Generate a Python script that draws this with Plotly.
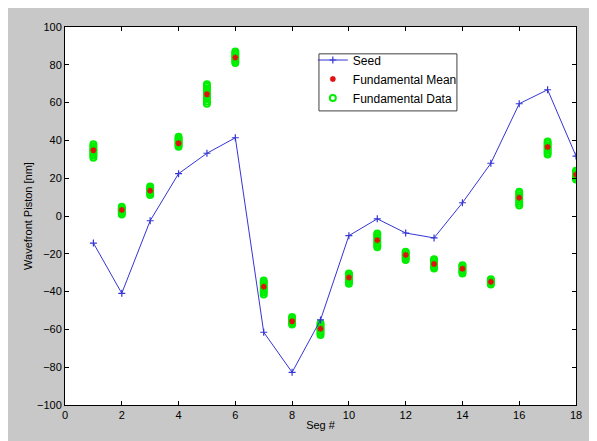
import plotly.graph_objects as go

segments = list(range(1, 19))

seed = [-14.3, -40.9, -2.5, 22.4, 33.2, 41.4, -61.5, -82.7, -55.0,
        -10.4, -1.5, -9.0, -11.6, 7.0, 27.9, 59.4, 66.8, 31.7]

fundamental_mean = [34.8, 3.2, 13.4, 38.5, 64.4, 83.8, -37.4, -55.7, -59.6,
                    -32.6, -12.8, -20.6, -25.4, -27.9, -34.8, 9.7, 36.5, 21.9]

fundamental_data = [
    [30.8, 31.9, 32.7, 33.6, 34.4, 35.1, 36.0, 36.9, 37.9],
    [0.8, 1.5, 2.3, 2.9, 3.4, 4.1, 4.9],
    [11.1, 11.9, 12.6, 13.3, 14.0, 14.8, 15.6],
    [36.6, 37.3, 38.1, 38.8, 39.5, 40.3, 41.0, 41.9],
    [59.4, 60.6, 61.9, 63.0, 64.2, 65.3, 66.5, 67.6, 68.8, 69.7],
    [81.0, 81.9, 82.8, 83.7, 84.5, 85.4, 86.2, 87.0],
    [-41.5, -40.4, -39.3, -38.2, -37.1, -36.0, -35.0, -34.1],
    [-57.4, -56.6, -55.8, -55.0, -54.2, -53.4],
    [-62.9, -62.0, -61.1, -60.2, -59.3, -58.4, -57.5, -56.7],
    [-35.9, -35.1, -34.2, -33.4, -32.5, -31.7, -30.9, -30.4],
    [-16.5, -15.5, -14.4, -13.3, -12.2, -11.1, -10.0, -9.2],
    [-23.3, -22.5, -21.7, -20.9, -20.1, -19.3, -18.9],
    [-27.8, -27.0, -26.1, -25.3, -24.5, -23.6, -22.9],
    [-30.4, -29.6, -28.8, -28.0, -27.2, -26.5, -26.0],
    [-36.2, -35.6, -35.0, -34.4, -33.9, -33.5],
    [5.5, 6.6, 7.7, 8.8, 9.9, 11.0, 12.0, 12.8],
    [32.5, 33.5, 34.5, 35.5, 36.5, 37.5, 38.5, 39.4],
    [19.3, 20.0, 20.8, 21.6, 22.4, 23.2, 23.9],
]

x_ticks = list(range(0, 19, 2))
y_ticks = list(range(-100, 101, 20))

data_x, data_y = [], []
for s, vals in zip(segments, fundamental_data):
    for v in vals:
        data_x.append(s)
        data_y.append(v)

FONT = "Liberation Sans, Arial, sans-serif"

fig = go.Figure()
fig.add_trace(go.Scatter(
    x=data_x, y=data_y, mode="markers", name="Fundamental Data",
    legendrank=3,
    marker=dict(symbol="circle-open", size=6, color="#00ee00",
                line=dict(color="#00ee00", width=2)),
))
fig.add_trace(go.Scatter(
    x=segments, y=fundamental_mean, mode="markers", name="Fundamental Mean",
    legendrank=2,
    marker=dict(symbol="asterisk-open", size=5, color="#e01010",
                line=dict(color="#e01010", width=1.5)),
))
fig.add_trace(go.Scatter(
    x=segments, y=seed, mode="lines+markers", name="Seed",
    legendrank=1,
    line=dict(color="#3535d5", width=1),
    marker=dict(symbol="cross-thin-open", size=5,
                line=dict(color="#1010e0", width=1.2)),
))

axis_common = dict(
    showgrid=False, zeroline=False, showline=True, linecolor="#000000",
    linewidth=1, mirror="ticks", ticks="inside", ticklen=4, tickcolor="#000000",
    tickfont=dict(family=FONT, size=11, color="#000000"),
)

fig.update_xaxes(range=[0, 18], tickvals=x_ticks,
                 title=dict(text="Seg #", font=dict(family=FONT, size=11, color="#000000"),
                            standoff=1),
                 **axis_common)
fig.update_yaxes(range=[-100, 100], tickvals=y_ticks,
                 title=dict(text="Wavefront Piston [nm]",
                            font=dict(family=FONT, size=11, color="#000000"),
                            standoff=2),
                 **axis_common)

# legend frame
fig.add_shape(type="rect", xref="paper", yref="paper",
              x0=0.497, x1=0.767, y0=0.778, y1=0.929,
              fillcolor="#ffffff", line=dict(color="#404040", width=1), layer="above")

fig.update_layout(
    width=589, height=434,
    margin=dict(l=57, r=21, t=19, b=37),
    paper_bgcolor="#c8c8c8", plot_bgcolor="#ffffff",
    font=dict(family=FONT, size=11, color="#000000"),
    showlegend=True,
    legend=dict(x=0.485, y=0.951, xanchor="left", yanchor="top",
                bgcolor="rgba(0,0,0,0)", borderwidth=0,
                font=dict(family=FONT, size=12, color="#000000"),
                traceorder="normal", itemwidth=30, tracegroupgap=0),
)

fig.write_html("out.html")
